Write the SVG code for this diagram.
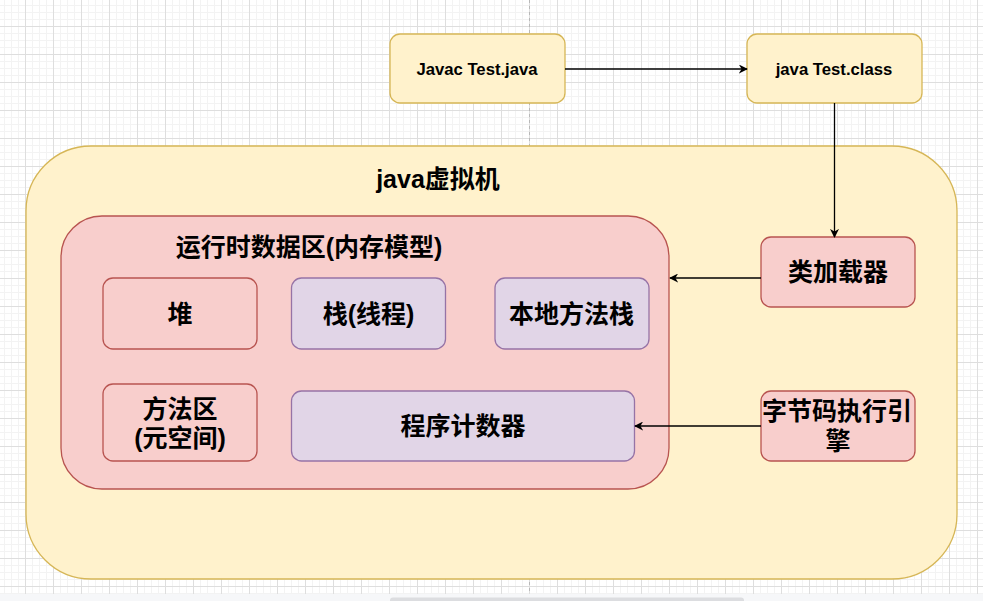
<svg xmlns="http://www.w3.org/2000/svg" width="983" height="601" viewBox="0 0 983 601">
<defs>
<pattern id="grid" patternUnits="userSpaceOnUse" x="25" y="26" width="28" height="28">
<path d="M7.5 0V28M14.5 0V28M21.5 0V28M0 7.5H28M0 14.5H28M0 21.5H28" stroke="#f3f3f3" stroke-width="1" fill="none"/>
<path d="M0.5 0V28M0 0.5H28" stroke="#dedede" stroke-width="1" fill="none"/>
</pattern>
<marker id="arr" viewBox="0 0 10 10" refX="9" refY="5" markerWidth="9" markerHeight="9" markerUnits="userSpaceOnUse" orient="auto">
<path d="M0 0L10 5L0 10L3 5Z" fill="#000"/>
</marker>
<style>
.y{fill:#fff2cc;stroke:#d6b656;stroke-width:1.3}
.p{fill:#f8cecc;stroke:#b85450;stroke-width:1.3}
.v{fill:#e1d5e7;stroke:#9673a6;stroke-width:1.3}
.t{font-family:"Liberation Sans","Noto Sans CJK SC",sans-serif;font-weight:bold;fill:#000;text-anchor:middle;dominant-baseline:central}
.s{font-size:16.7px}
.b{font-size:25px}
.e{stroke:#000;stroke-width:1.3;fill:none;marker-end:url(#arr)}
</style>
</defs>
<rect x="0" y="0" width="983" height="601" fill="#fff"/>
<rect x="0" y="0" width="983" height="601" fill="url(#grid)"/>
<line x1="529.5" y1="0" x2="529.5" y2="595" stroke="#b8b8b8" stroke-width="1" stroke-dasharray="3 3"/>
<rect x="0" y="594" width="983" height="7" fill="#f6f7f9"/>
<rect x="390" y="597.5" width="354" height="6" rx="3" fill="#dcdde0"/>

<g id="jvm">
<rect class="y" x="26" y="146" width="931" height="433" rx="65"/>
<text class="t b" x="438" y="179">java虚拟机</text>
</g>
<g id="runtime">
<rect class="p" x="61" y="216" width="608" height="273" rx="41"/>
<text class="t b" x="309" y="247">运行时数据区(内存模型)</text>
</g>
<g id="javac">
<rect class="y" x="390" y="34" width="175" height="69" rx="10"/>
<text class="t s" x="477" y="69">Javac Test.java</text>
</g>
<g id="javaclass">
<rect class="y" x="747" y="34" width="175" height="69" rx="10"/>
<text class="t s" x="834" y="69">java Test.class</text>
</g>
<g id="heap">
<rect class="p" x="103" y="278" width="154" height="71" rx="10"/>
<text class="t b" x="180" y="314">堆</text>
</g>
<g id="stack">
<rect class="v" x="291.5" y="278" width="154" height="71" rx="10"/>
<text class="t b" x="368.5" y="314">栈(线程)</text>
</g>
<g id="native">
<rect class="v" x="495" y="278" width="154" height="71" rx="10"/>
<text class="t b" x="571.5" y="314">本地方法栈</text>
</g>
<g id="method">
<rect class="p" x="103" y="384" width="154" height="77" rx="10"/>
<text class="t b" x="180" y="409">方法区</text>
<text class="t b" x="180" y="438">(元空间)</text>
</g>
<g id="pc">
<rect class="v" x="291.5" y="391" width="343" height="70" rx="10"/>
<text class="t b" x="463" y="426">程序计数器</text>
</g>
<g id="loader">
<rect class="p" x="761" y="237" width="154" height="70" rx="10"/>
<text class="t b" x="838" y="272">类加载器</text>
</g>
<g id="engine">
<rect class="p" x="761" y="391" width="154" height="70" rx="10"/>
<text class="t b" x="837" y="411">字节码执行引</text>
<text class="t b" x="838" y="441">擎</text>
</g>
<g id="connectors">
<path class="e" d="M565 69H747"/>
<path class="e" d="M834.5 103V237"/>
<path class="e" d="M761 278H670"/>
<path class="e" d="M761 426H635"/>
</g>
</svg>
